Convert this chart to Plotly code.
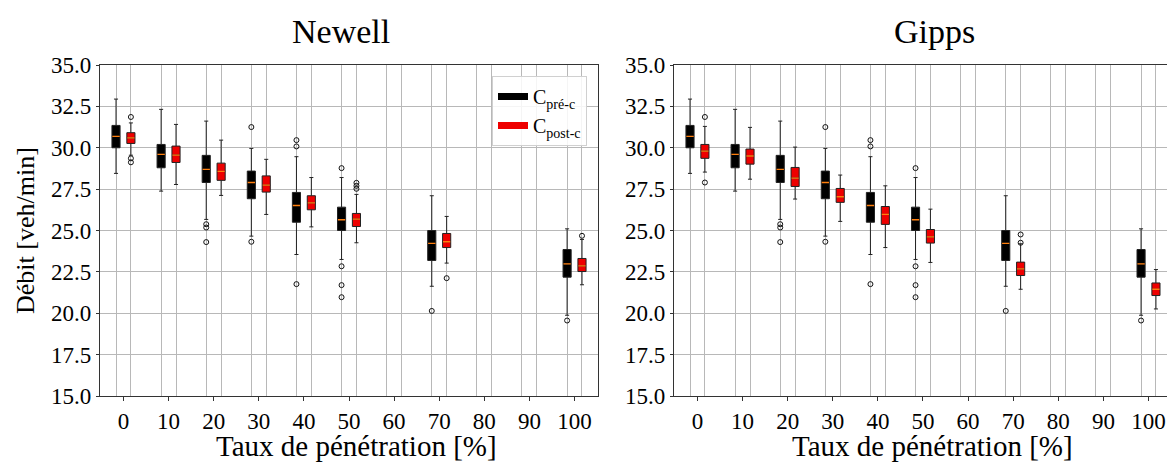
import plotly.graph_objects as go

# ---------------- data ----------------
categories = [0, 10, 20, 30, 40, 50, 70, 100]
all_ticks = [0, 10, 20, 30, 40, 50, 60, 70, 80, 90, 100]
offset = 1.65
box_width = 1.8

# C pré-c (same in both models)
pre_q1 = [30.00, 28.79, 27.90, 26.92, 25.50, 25.00, 23.19, 22.18]
pre_med = [30.69, 29.60, 28.69, 27.90, 26.51, 25.65, 24.22, 22.98]
pre_q3 = [31.35, 30.20, 29.54, 28.59, 27.30, 26.41, 25.00, 23.85]
pre_lo = [28.45, 27.38, 25.67, 24.66, 23.55, 23.25, 21.63, 19.88]
pre_hi = [32.94, 32.32, 31.61, 29.96, 29.46, 28.20, 27.10, 25.10]
pre_out = [[], [], [25.38, 25.18, 24.30], [31.25, 24.32], [30.46, 30.08, 21.76],
           [28.77, 22.84, 21.70, 20.97], [20.14], [19.56]]

# Newell C post-c
newell_q1 = [30.26, 29.11, 28.03, 27.32, 26.25, 25.24, 23.97, 22.52]
newell_med = [30.60, 29.56, 28.57, 27.74, 26.67, 25.69, 24.32, 22.86]
newell_q3 = [30.91, 30.10, 29.07, 28.30, 27.10, 26.03, 24.82, 23.31]
newell_lo = [29.55, 27.78, 27.12, 25.97, 25.22, 24.26, 23.03, 21.72]
newell_hi = [31.50, 31.41, 30.46, 29.30, 28.20, 27.18, 25.85, 24.46]
newell_out = [[31.86, 29.36, 29.12], [], [], [], [], [27.88, 27.70, 27.52], [22.12], [24.68]]

# Gipps C post-c
gipps_q1 = [29.36, 29.01, 27.66, 26.70, 25.37, 24.24, 22.28, 21.07]
gipps_med = [29.80, 29.50, 28.17, 27.04, 25.97, 24.62, 22.68, 21.45]
gipps_q3 = [30.20, 29.92, 28.81, 27.54, 26.45, 25.06, 23.09, 21.83]
gipps_lo = [28.53, 28.10, 26.90, 25.55, 23.97, 23.07, 21.45, 20.26]
gipps_hi = [31.29, 31.23, 30.04, 28.35, 27.70, 26.29, 24.20, 22.64]
gipps_out = [[31.86, 27.90], [], [], [], [], [], [24.76, 24.26], []]

y_ticks = [15.0, 17.5, 20.0, 22.5, 25.0, 27.5, 30.0, 32.5, 35.0]

FONT = "Liberation Serif"
GRID = "#b8b8b8"
MEDIAN = "#ff7f0e"

fig = go.Figure()


def add_series(xa, ya, sign, q1, med, q3, lo, hi, outs, fill):
    pos = [c + sign * offset for c in categories]
    fig.add_trace(go.Box(
        x=pos, q1=q1, median=med, q3=q3, lowerfence=lo, upperfence=hi,
        width=box_width, whiskerwidth=0.5, fillcolor=fill,
        line=dict(color="#222222", width=1), boxpoints=False,
        xaxis=xa, yaxis=ya, showlegend=False, hoverinfo="skip"))
    fig.add_trace(go.Box(
        x=pos, q1=med, median=med, q3=med, lowerfence=med, upperfence=med,
        width=box_width * 0.9, whiskerwidth=0, fillcolor="rgba(0,0,0,0)",
        line=dict(color=MEDIAN, width=1.3), boxpoints=False,
        xaxis=xa, yaxis=ya, showlegend=False, hoverinfo="skip"))
    ox, oy = [], []
    for p, vals in zip(pos, outs):
        for v in vals:
            ox.append(p)
            oy.append(v)
    fig.add_trace(go.Scatter(
        x=ox, y=oy, mode="markers", xaxis=xa, yaxis=ya, showlegend=False,
        marker=dict(symbol="circle-open", size=5, color="#111111", line=dict(width=1)),
        hoverinfo="skip"))


add_series("x", "y", -1, pre_q1, pre_med, pre_q3, pre_lo, pre_hi, pre_out, "black")
add_series("x", "y", +1, newell_q1, newell_med, newell_q3, newell_lo, newell_hi, newell_out, "#ee0000")
add_series("x2", "y2", -1, pre_q1, pre_med, pre_q3, pre_lo, pre_hi, pre_out, "black")
add_series("x2", "y2", +1, gipps_q1, gipps_med, gipps_q3, gipps_lo, gipps_hi, gipps_out, "#ee0000")

# legend entries
fig.add_trace(go.Scatter(x=[None], y=[None], mode="lines", name="C<sub>pré-c</sub>",
                         line=dict(color="black", width=7), xaxis="x", yaxis="y"))
fig.add_trace(go.Scatter(x=[None], y=[None], mode="lines", name="C<sub>post-c</sub>",
                         line=dict(color="#ee0000", width=7), xaxis="x", yaxis="y"))

W, H = 1167, 463
ydom = [(H - 396) / H, (H - 65) / H]
TICK = 23

def xaxis_cfg(domain, rng, anchor):
    return dict(domain=domain, range=rng, anchor=anchor, automargin=False,
                tickmode="array", tickvals=all_ticks, ticktext=[str(t) for t in all_ticks],
                ticks="outside", ticklen=4, tickcolor="#333", showgrid=False, zeroline=False,
                minor=dict(tickmode="array",
                           tickvals=[c + s * offset for c in all_ticks for s in (-1, 1)],
                           showgrid=True, gridcolor=GRID, gridwidth=1.2, ticks=""),
                showline=True, linecolor="#333", linewidth=1.3, mirror=True,
                tickfont=dict(family=FONT, size=TICK, color="black"))


def yaxis_cfg(anchor, mirror):
    return dict(domain=ydom, range=[15, 35], anchor=anchor, automargin=False,
                tickmode="array", tickvals=y_ticks, ticktext=[f"{v:.1f}" for v in y_ticks],
                ticks="outside", ticklen=3, tickcolor="#333",
                showgrid=True, gridcolor=GRID, gridwidth=1.2, zeroline=False,
                showline=True, linecolor="#333", linewidth=1.3, mirror=mirror,
                tickfont=dict(family=FONT, size=TICK, color="black"))


def ann(text, x, y, size, angle=0):
    return dict(text=text, x=x / W, y=1 - y / H, xref="paper", yref="paper",
                xanchor="center", yanchor="middle", showarrow=False, textangle=angle,
                font=dict(family=FONT, size=size, color="black"))


fig.update_layout(
    width=W, height=H, margin=dict(l=0, r=0, t=0, b=0, autoexpand=False),
    paper_bgcolor="white", plot_bgcolor="white",
    xaxis=xaxis_cfg([100 / W, 598 / W], [-5.2, 105.2], "y"),
    yaxis=yaxis_cfg("x", True),
    xaxis2=xaxis_cfg([674 / W, 1.0], [-5.2, 104.1], "y2"),
    yaxis2=yaxis_cfg("x2", False),
    boxmode="overlay",
    legend=dict(x=492 / W, y=1 - 76 / H, xanchor="left", yanchor="top",
                bgcolor="rgba(255,255,255,0.85)", bordercolor="#d0d0d0", borderwidth=1,
                font=dict(family=FONT, size=20, color="black"),
                itemwidth=30, tracegroupgap=0),
    annotations=[
        ann("Newell", 341, 31, 34),
        ann("Gipps", 934, 31, 34),
        ann("Taux de pénétration [%]", 356, 446, 29),
        ann("Taux de pénétration [%]", 932, 446, 29),
        ann("Débit [veh/min]", 26, 231, 26, -90),
    ],
)

fig.write_html("out.html", config={"displayModeBar": False},
               post_script="document.body.style.margin='0px';")
